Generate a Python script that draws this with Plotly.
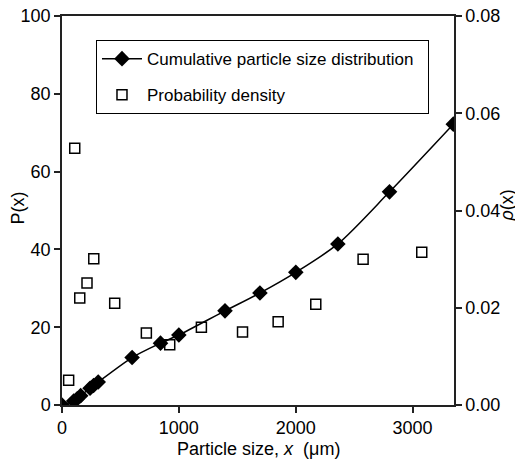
import plotly.graph_objects as go

# Cumulative particle size distribution P(x), %
cum_x = [0, 100, 130, 160, 240, 270, 310, 600, 843, 1000, 1395, 1694, 2001, 2361, 2803, 3349]
cum_p = [0, 1.0, 1.6, 2.4, 4.3, 5.0, 5.9, 12.2, 15.9, 18.0, 24.2, 28.8, 34.1, 41.4, 54.8, 72.2]

# Probability density rho(x)
den_x = [57, 109, 152, 214, 272, 451, 722, 922, 1193, 1545, 1850, 2172, 2577, 3079]
den_r = [0.0051, 0.0528, 0.0220, 0.0251, 0.0301, 0.0209, 0.0148, 0.0124, 0.0160,
         0.0150, 0.0171, 0.0207, 0.0300, 0.0314]

x_ticks = [0, 1000, 2000, 3000]
y_ticks = [0, 20, 40, 60, 80, 100]
y2_ticks = [0.00, 0.02, 0.04, 0.06, 0.08]

FONT = "Arial, 'Liberation Sans', sans-serif"
AX = "#222222"
NB = "\u00a0"

fig = go.Figure()
fig.add_trace(go.Scatter(
    x=cum_x, y=cum_p, mode="lines+markers",
    name="Cumulative particle size distribution" + NB * 2,
    line=dict(color="black", width=1.5, shape="spline", smoothing=0.8),
    marker=dict(symbol="diamond", size=12, color="black"),
    legendgroup="a",
))
fig.add_trace(go.Scatter(
    x=den_x, y=den_r, mode="markers", yaxis="y2",
    name="Probability density",
    marker=dict(symbol="square-open", size=10, color="black", line=dict(width=1.5)),
    legendgroup="b",
))

common = dict(ticks="outside", ticklen=6, tickwidth=1.5, tickcolor=AX,
              showline=True, linecolor=AX, linewidth=1.5, showgrid=False,
              zeroline=False, automargin=False, ticklabeloverflow="allow")

# the page body adds an 8 px offset, so the figure is 8 px smaller
fig.update_layout(
    width=515, height=454,
    margin=dict(l=54, r=69, t=8, b=57),
    paper_bgcolor="white", plot_bgcolor="white",
    font=dict(family=FONT, size=18, color="black"),
    showlegend=True,
    legend=dict(
        x=0.0867, y=0.938, xanchor="left", yanchor="top",
        bordercolor="black", borderwidth=1,
        font=dict(size=17), bgcolor="white",
        traceorder="grouped", tracegroupgap=11, itemwidth=40,
    ),
    xaxis=dict(range=[0, 3355], tickvals=x_ticks, mirror=True, **common),
    yaxis=dict(range=[0, 100], tickvals=y_ticks, **common),
    yaxis2=dict(range=[0, 0.08], tickvals=y2_ticks, tickformat=".2f",
                overlaying="y", side="right", **common),
    annotations=[
        dict(text="Particle size, <i>x</i>  (μm)", xref="paper", yref="paper",
             x=0.5, y=0, yshift=-32, xanchor="center", yanchor="top",
             showarrow=False, font=dict(size=18)),
        dict(text="P(x)", xref="paper", yref="paper", x=0, xshift=-45,
             y=0.5, yshift=2, xanchor="center", yanchor="middle",
             textangle=-90, showarrow=False, font=dict(size=18)),
        dict(text="<i>ρ</i>(x)", xref="paper", yref="paper", x=1, xshift=52,
             y=0.5, yshift=5, xanchor="center", yanchor="middle",
             textangle=-90, showarrow=False, font=dict(size=18)),
    ],
)

fig.write_html("out.html")
